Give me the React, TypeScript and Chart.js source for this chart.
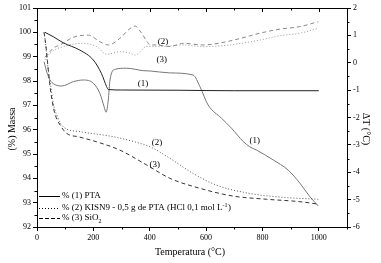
import { useEffect, useRef } from 'react';
import { Chart, registerables } from 'chart.js';

Chart.register(...registerables);

const FONT = "'Liberation Serif', 'Times New Roman', serif";

// Axis ticks
const xTicks = [0, 200, 400, 600, 800, 1000];
const xMinor = [100, 300, 500, 700, 900, 1100];
const yLeftTicks = [92, 93, 94, 95, 96, 97, 98, 99, 100, 101];
const yLeftMinor = [92.5, 93.5, 94.5, 95.5, 96.5, 97.5, 98.5, 99.5, 100.5];
const yRightTicks = [-6, -5, -4, -3, -2, -1, 0, 1, 2];
const yRightMinor = [-5.5, -4.5, -3.5, -2.5, -1.5, -0.5, 0.5, 1.5];

// Mass (%) curves - left axis
const mass1T = [28, 58, 93, 152, 200, 229, 247, 253, 300, 500, 700, 1000];
const mass1V = [100.0, 99.82, 99.57, 99.27, 98.86, 98.3, 97.77, 97.65, 97.63, 97.62, 97.6, 97.6];

const mass2T = [25, 30, 34, 40, 49, 58, 70, 93, 152, 271, 365, 401, 472, 554, 637, 755, 873, 998];
const mass2V = [100.0, 99.6, 99.1, 98.45, 97.77, 97.08, 96.6, 96.12, 95.92, 95.71, 95.44, 95.3, 94.82, 94.2, 93.72, 93.38, 93.22, 93.14];

const mass3T = [25, 32, 38, 45, 55, 65, 82, 105, 150, 212, 294, 389, 472, 578, 696, 815, 933, 998];
const mass3V = [100.0, 99.4, 98.7, 97.9, 97.1, 96.6, 96.19, 95.85, 95.7, 95.5, 95.16, 94.55, 94.0, 93.59, 93.27, 93.14, 93.04, 92.94];

// DTA (deltaT) curves - right axis
const dta1T = [25, 35, 46, 60, 88, 129, 164, 200, 223, 238, 245, 253, 259, 277, 318, 377, 401, 470, 554, 578, 607, 655, 690, 732, 755, 779, 838, 891, 933, 968, 998];
const dta1V = [0.04, -0.35, -0.63, -0.78, -0.85, -0.69, -0.63, -0.75, -1.12, -1.6, -1.81, -1.36, -0.63, -0.24, -0.2, -0.29, -0.3, -0.37, -0.45, -0.87, -1.54, -2.03, -2.39, -2.88, -3.07, -3.19, -3.55, -3.92, -4.4, -4.89, -5.23];

const dta2T = [28, 46, 93, 164, 212, 247, 294, 330, 348, 389, 436, 519, 590, 684, 791, 862, 933, 998];
const dta2V = [0.1, 0.35, 0.59, 0.71, 0.59, 0.31, 0.4, 0.35, 0.28, 0.59, 0.59, 0.65, 0.59, 0.65, 0.83, 0.99, 1.08, 1.26];

const dta3T = [28, 45, 60, 82, 129, 182, 223, 253, 294, 330, 348, 371, 390, 401, 424, 472, 519, 590, 673, 744, 791, 862, 933, 998];
const dta3V = [0.2, 0.4, 0.55, 0.65, 0.93, 1.01, 0.77, 0.65, 0.89, 1.25, 1.34, 1.08, 0.78, 0.65, 0.65, 0.59, 0.71, 0.65, 0.77, 0.95, 1.08, 1.23, 1.32, 1.5];

// Curve annotations (temperature, mass-axis value)
const annText = ['(1)', '(2)', '(3)', '(1)', '(2)', '(3)'];
const annT = [376, 447, 443, 773, 426, 418];
const annM = [97.88, 99.6, 98.86, 95.53, 95.45, 94.55];

const legendLabels = ['% (1) PTA', '% (2) KISN9 - 0,5 g de PTA (HCl 0,1 mol L', '% (3) SiO'];

const zip = (t: number[], v: number[]) => t.map((x, i) => ({ x, y: v[i] }));

const extras = {
  id: 'extras',
  afterDraw(chart: any) {
    const { ctx, chartArea: a, scales } = chart;
    const xs = scales.x, ys = scales.y, ys2 = scales.y2;
    ctx.save();
    ctx.strokeStyle = '#000';
    ctx.lineWidth = 1;
    const line = (x1: number, y1: number, x2: number, y2: number) => {
      ctx.beginPath();
      ctx.moveTo(x1, y1);
      ctx.lineTo(x2, y2);
      ctx.stroke();
    };
    // top border
    line(a.left, Math.round(a.top) + 0.5, a.right, Math.round(a.top) + 0.5);
    xTicks.forEach((v) => {
      const px = Math.round(xs.getPixelForValue(v)) + 0.5;
      line(px, a.top, px, a.top + 4);
    });
    xMinor.forEach((v) => {
      const px = Math.round(xs.getPixelForValue(v)) + 0.5;
      line(px, a.top, px, a.top + 2.5);
      line(px, a.bottom, px, a.bottom + 2.5);
    });
    yLeftMinor.forEach((v) => {
      const py = Math.round(ys.getPixelForValue(v)) + 0.5;
      line(a.left - 2.5, py, a.left, py);
    });
    yRightMinor.forEach((v) => {
      const py = Math.round(ys2.getPixelForValue(v)) + 0.5;
      line(a.right, py, a.right + 2.5, py);
    });

    // annotations
    ctx.fillStyle = '#000';
    ctx.font = `9px ${FONT}`;
    ctx.textAlign = 'center';
    ctx.textBaseline = 'middle';
    annText.forEach((t, i) => {
      ctx.fillText(t, xs.getPixelForValue(annT[i]), ys.getPixelForValue(annM[i]));
    });

    // legend
    const lx = a.left + 2;
    const rows = [a.bottom - 31, a.bottom - 19, a.bottom - 9];
    const dashes = [[], [1, 2], [4, 2]];
    ctx.textAlign = 'left';
    rows.forEach((ry, i) => {
      ctx.setLineDash(dashes[i]);
      line(lx, Math.round(ry) + 0.5, lx + 21, Math.round(ry) + 0.5);
      ctx.setLineDash([]);
      ctx.font = `9px ${FONT}`;
      ctx.fillText(legendLabels[i], lx + 23, ry);
      const w = ctx.measureText(legendLabels[i]).width;
      if (i === 1) {
        ctx.font = `6px ${FONT}`;
        ctx.fillText('-1', lx + 23 + w, ry - 3);
        const w2 = ctx.measureText('-1').width;
        ctx.font = `9px ${FONT}`;
        ctx.fillText(')', lx + 23 + w + w2 + 0.5, ry);
      }
      if (i === 2) {
        ctx.font = `6px ${FONT}`;
        ctx.fillText('2', lx + 23 + w, ry + 3);
      }
    });

    // axis titles
    ctx.font = `10px ${FONT}`;
    ctx.textAlign = 'center';
    ctx.fillText('Temperatura (°C)', 190, 252);
    ctx.save();
    ctx.translate(12, 129);
    ctx.rotate(-Math.PI / 2);
    ctx.fillText('(%) Massa', 0, 0);
    ctx.restore();
    ctx.save();
    ctx.translate(366, 129);
    ctx.rotate(Math.PI / 2);
    ctx.fillText('ΔT (°C)', 0, 0);
    ctx.restore();
    ctx.restore();
  },
};

export default function App() {
  const ref = useRef<HTMLCanvasElement | null>(null);
  useEffect(() => {
    if (!ref.current) return;
    const tickFont = { family: FONT, size: 8 };
    const grid = { drawOnChartArea: false, drawTicks: true, tickLength: 4, color: '#000', lineWidth: 1 };
    const border = { display: true, color: '#000', width: 1 };
    const fmt = (v: any) => String(v);
    const ds = (label: string, data: any[], axis: string, color: string, dash: number[]) => ({
      label,
      data,
      yAxisID: axis,
      borderColor: color,
      borderWidth: 1,
      borderDash: dash,
      pointRadius: 0,
      fill: false,
      cubicInterpolationMode: 'monotone' as const,
    });
    const chart = new Chart(ref.current, {
      type: 'line',
      data: {
        datasets: [
          ds('TGA 1', zip(mass1T, mass1V), 'y', '#222', []),
          ds('TGA 2', zip(mass2T, mass2V), 'y', '#555', [1, 2]),
          ds('TGA 3', zip(mass3T, mass3V), 'y', '#333', [4, 3]),
          ds('DTA 1', zip(dta1T, dta1V), 'y2', '#777', []),
          ds('DTA 2', zip(dta2T, dta2V), 'y2', '#999', [1, 2]),
          ds('DTA 3', zip(dta3T, dta3V), 'y2', '#888', [4, 3]),
        ],
      },
      options: {
        animation: false,
        responsive: false,
        layout: { padding: { top: 8, left: 0, right: 0, bottom: 0 } },
        plugins: { legend: { display: false }, tooltip: { enabled: false } },
        scales: {
          x: {
            type: 'linear',
            min: 0,
            max: 1100,
            grid,
            border,
            afterBuildTicks: (s: any) => { s.ticks = xTicks.map((v) => ({ value: v })); },
            afterFit: (s: any) => { s.height = 36; },
            ticks: { font: tickFont, color: '#000', padding: 2, maxRotation: 0, callback: fmt },
          },
          y: {
            type: 'linear',
            position: 'left',
            min: 92,
            max: 101,
            grid,
            border,
            afterBuildTicks: (s: any) => { s.ticks = yLeftTicks.map((v) => ({ value: v })); },
            afterFit: (s: any) => { s.width = 37; },
            ticks: { font: tickFont, color: '#000', padding: 2, callback: fmt },
          },
          y2: {
            type: 'linear',
            position: 'right',
            min: -6,
            max: 2,
            grid,
            border,
            afterBuildTicks: (s: any) => { s.ticks = yRightTicks.map((v) => ({ value: v })); },
            afterFit: (s: any) => { s.width = 34; },
            ticks: { font: tickFont, color: '#000', padding: 2, callback: fmt },
          },
        },
      },
      plugins: [extras],
    });
    return () => chart.destroy();
  }, []);
  return (
    <div style={{ position: 'fixed', left: 0, top: 0, width: 381, height: 263, background: '#fff' }}>
      <canvas ref={ref} width={381} height={263} />
    </div>
  );
}
